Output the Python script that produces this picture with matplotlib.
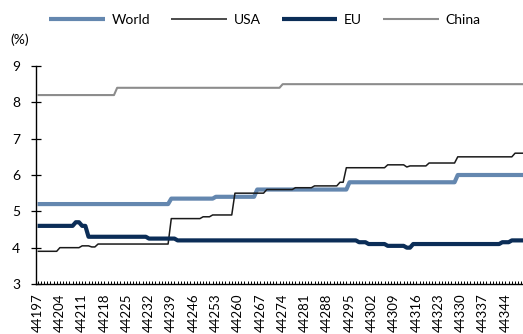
import numpy as np
import matplotlib
matplotlib.use("Agg")
import matplotlib.pyplot as plt
from matplotlib.ticker import MultipleLocator, FixedLocator, FormatStrFormatter

plt.rcParams["font.family"] = ["Lato", "DejaVu Sans"]

# Step series as polyline vertices (Excel serial day, percent).
world_days = [44197, 44238, 44239, 44252, 44253, 44265, 44266, 44294, 44295,
              44328, 44329, 44350]
world_vals = [5.2, 5.2, 5.35, 5.35, 5.4, 5.4, 5.6, 5.6, 5.8, 5.8, 6.0, 6.0]

usa_days = [44197, 44203, 44204, 44210, 44211, 44213, 44214, 44215, 44216,
            44238, 44239, 44248, 44249, 44251, 44252, 44258, 44259, 44268,
            44269, 44277, 44278, 44283, 44284, 44291, 44292, 44293, 44294,
            44306, 44307, 44312, 44313, 44314, 44319, 44320, 44328, 44329,
            44346, 44347, 44350]
usa_vals = [3.9, 3.9, 4.0, 4.0, 4.05, 4.05, 4.02, 4.02, 4.1,
            4.1, 4.8, 4.8, 4.85, 4.85, 4.9, 4.9, 5.5, 5.5,
            5.6, 5.6, 5.65, 5.65, 5.7, 5.7, 5.8, 5.8, 6.2,
            6.2, 6.28, 6.28, 6.22, 6.25, 6.25, 6.33, 6.33, 6.5,
            6.5, 6.6, 6.6]

eu_days = [44197, 44208, 44209, 44210, 44211, 44212, 44213, 44231, 44232,
           44240, 44241, 44297, 44298, 44300, 44301, 44306, 44307, 44312,
           44313, 44314, 44315, 44342, 44343, 44345, 44346, 44350]
eu_vals = [4.6, 4.6, 4.7, 4.7, 4.6, 4.6, 4.3, 4.3, 4.25,
           4.25, 4.2, 4.2, 4.15, 4.15, 4.1, 4.1, 4.05, 4.05,
           4.0, 4.0, 4.1, 4.1, 4.15, 4.15, 4.2, 4.2]

china_days = [44197, 44221, 44222, 44273, 44274, 44350]
china_vals = [8.2, 8.2, 8.4, 8.4, 8.5, 8.5]

label_days = list(range(44197, 44345, 7))

fig = plt.figure(figsize=(5.23, 3.34), dpi=100)
ax = fig.add_axes([36 / 523, 1 - 284 / 334, 1 - 36 / 523, (284 - 66) / 334])

kw = dict(solid_joinstyle="round", solid_capstyle="butt")
ax.plot(world_days, world_vals, color="#6487AF", lw=3.0, label="World", **kw)
ax.plot(usa_days, usa_vals, color="#1A1A1A", lw=1.1, label="USA", **kw)
ax.plot(eu_days, eu_vals, color="#0B2D57", lw=3.0, label="EU", **kw)
ax.plot(china_days, china_vals, color="#8C8C8C", lw=1.5, label="China", **kw)

ax.set_xlim(44196.5, 44349.5)
ax.set_ylim(3, 9)
ax.yaxis.set_major_locator(MultipleLocator(1))
ax.xaxis.set_major_locator(FixedLocator(label_days))
ax.xaxis.set_minor_locator(MultipleLocator(1))
ax.xaxis.set_major_formatter(FormatStrFormatter("%d"))

for s in ["top", "right"]:
    ax.spines[s].set_visible(False)
for s in ["left", "bottom"]:
    ax.spines[s].set_linewidth(1.0)
    ax.spines[s].set_color("black")

ax.tick_params(axis="y", direction="inout", length=7, width=0.9,
               labelsize=10, pad=8)
ax.tick_params(axis="x", which="both", direction="in", length=2.5,
               width=0.7, labelsize=9.5, pad=7, labelrotation=90)

fig.text(10 / 523, 1 - 40 / 334, "(%)", fontsize=10, va="center")

fig.legend(loc="center", bbox_to_anchor=(265 / 523, 1 - 20 / 334), ncol=4,
           frameon=False, fontsize=10, handlelength=4.0, handletextpad=0.5,
           columnspacing=1.5, borderaxespad=0)

fig.savefig("out.png", dpi=100)
